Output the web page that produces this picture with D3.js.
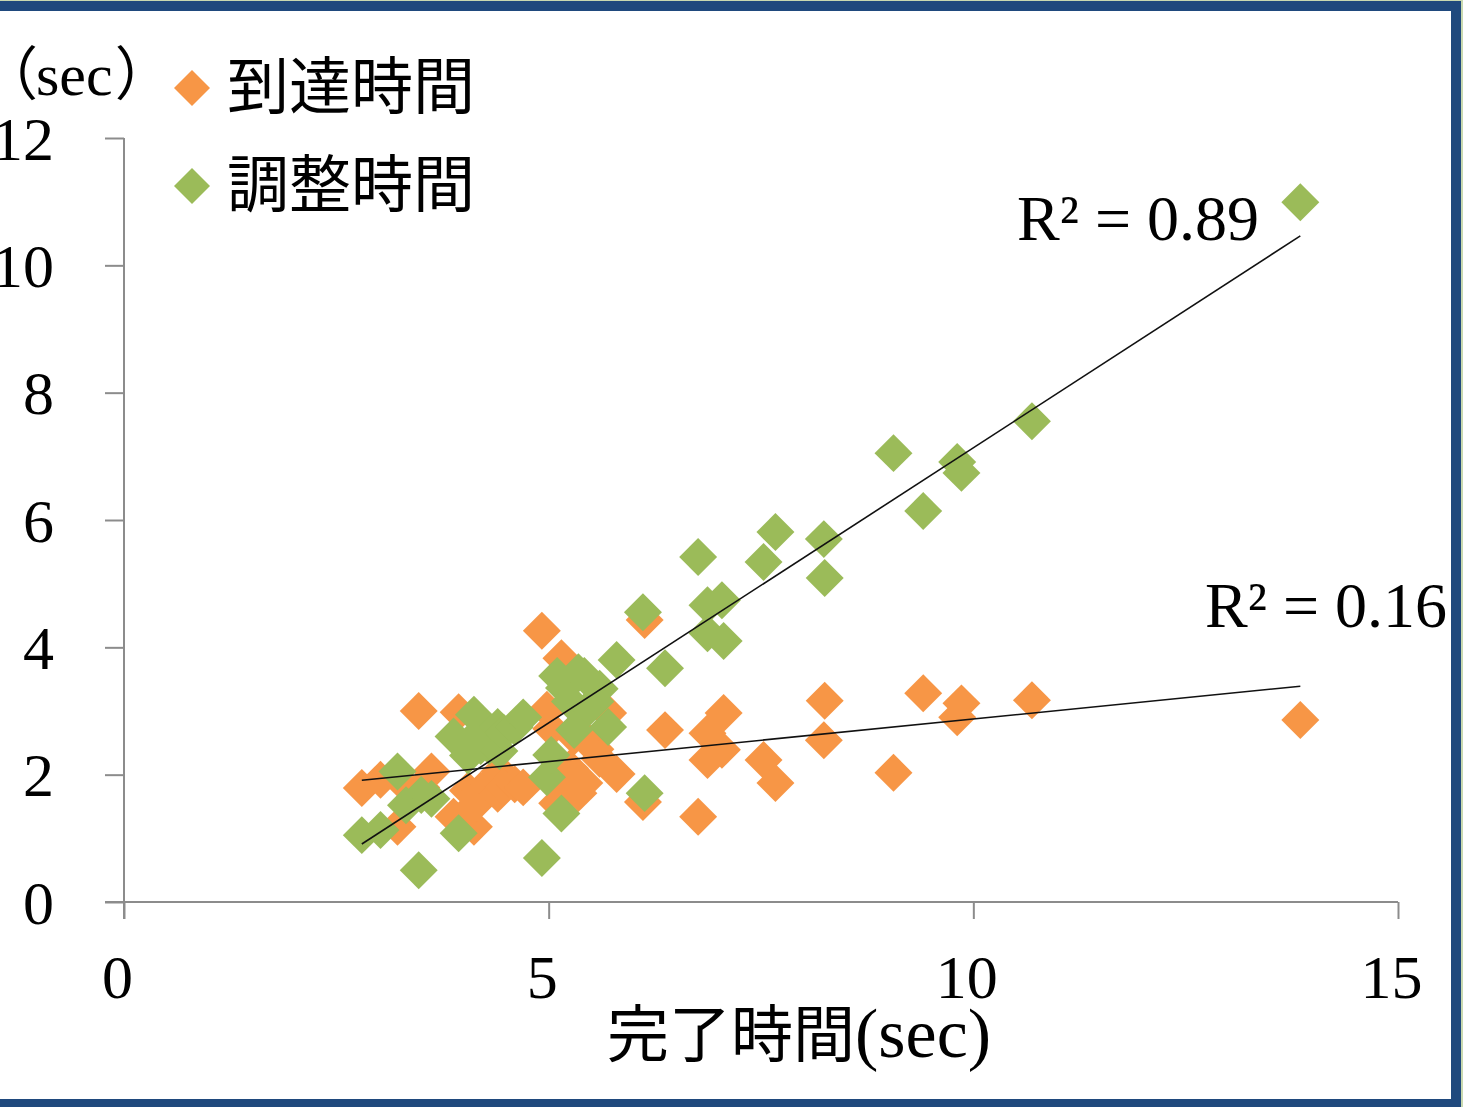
<!DOCTYPE html>
<html><head><meta charset="utf-8">
<script src="https://cdn.jsdelivr.net/npm/d3@7"></script>
<style>html,body{margin:0;padding:0;background:#fff;overflow:hidden}</style>
</head><body>
<svg id="chart" width="1463" height="1107"></svg>
<script>
// completion time (x), arrival time (orange), adjustment time (green)
const completion = [2.80,3.02,3.22,3.32,3.47,3.50,3.62,3.88,3.94,4.05,4.12,4.15,4.20,4.30,4.40,4.42,4.47,4.60,4.70,4.92,4.98,5.03,5.15,5.18,5.25,5.35,5.45,5.42,5.55,5.70,5.80,5.60,5.10,5.30,6.11,6.13,6.37,6.76,6.87,6.87,7.04,7.06,7.53,7.67,8.24,8.25,9.06,9.41,9.81,9.86,10.69,13.85];
const arrival    = [1.79,1.92,1.18,1.82,3.00,1.80,2.05,1.34,2.98,1.75,1.18,1.55,1.75,1.85,1.70,2.05,1.81,1.85,1.80,4.26,3.02,2.72,3.83,1.82,2.10,1.71,2.54,1.87,2.40,2.97,2.01,2.25,1.55,2.60,1.57,4.43,2.70,1.34,2.23,2.65,2.39,2.97,2.23,1.87,2.54,3.16,2.03,3.28,2.90,3.12,3.17,2.86];
const adjustment = [1.05,1.13,2.05,1.52,0.50,1.68,1.62,2.60,1.08,2.30,2.94,2.62,2.45,2.45,2.75,2.37,2.66,2.75,2.90,0.69,1.96,2.31,1.39,3.36,3.15,3.61,3.02,3.55,3.15,2.75,3.80,3.35,3.55,2.70,4.55,1.71,3.67,5.42,4.66,4.22,4.74,4.10,5.34,5.81,5.70,5.09,7.05,6.14,6.91,6.74,7.55,10.99];
const xTicks = [0,5,10,15];
const yTicks = [0,2,4,6,8,10,12];
const seriesNames = ["到達時間","調整時間"];
const r2Labels = ["R² = 0.89","R² = 0.16"];

const ORANGE = "#F79646", GREEN = "#9BBB59", AXIS = "#8c8c8c", FRAME = "#1F497D";
const svg = d3.select("#chart");

// frame
svg.append("rect").attr("x",0).attr("y",0).attr("width",1463).attr("height",1107).attr("fill","#fff");
svg.append("rect").attr("x",0).attr("y",0).attr("width",1463).attr("height",1).attr("fill","#c9d9b0");
svg.append("rect").attr("x",1461).attr("y",0).attr("width",2).attr("height",1107).attr("fill","#c9d9b0");
svg.append("rect").attr("x",0).attr("y",1).attr("width",1461).attr("height",10).attr("fill",FRAME);
svg.append("rect").attr("x",1451).attr("y",1).attr("width",10).attr("height",1106).attr("fill",FRAME);
svg.append("rect").attr("x",0).attr("y",1099).attr("width",1461).attr("height",8).attr("fill",FRAME);

const x = d3.scaleLinear().domain([0,15]).range([124,1398]);
const y = d3.scaleLinear().domain([0,12]).range([902,138]);

// axes
const gx = svg.append("g").attr("transform","translate(0,902)")
  .call(d3.axisBottom(x).tickValues(xTicks).tickSize(17).tickFormat(d3.format("d")));
gx.select(".domain").attr("d","M105,0H1398");
const gy = svg.append("g").attr("transform","translate(124,0)")
  .call(d3.axisLeft(y).tickValues(yTicks).tickSize(19).tickFormat(d3.format("d")));
gy.select(".domain").attr("d","M0,138V919");
[gx,gy].forEach(g=>{
  g.selectAll(".domain").attr("stroke",AXIS).attr("stroke-width",2);
  g.selectAll(".tick line").attr("stroke",AXIS).attr("stroke-width",2);
  g.selectAll(".tick text").attr("fill","#000").attr("font-family","'Liberation Serif',serif").attr("font-size",62);
});
gx.selectAll(".tick text").attr("dy",null).attr("y",96).attr("dx",-7);
gy.selectAll(".tick text").attr("x",-70).attr("dy","0.34em");

// points
const diamond = d3.symbol(d3.symbolSquare, 720);
const pts = svg.append("g");
pts.selectAll(".o").data(completion.map((c,i)=>[c,arrival[i]])).join("path")
  .attr("d",diamond).attr("fill",ORANGE)
  .attr("transform",d=>`translate(${x(d[0])},${y(d[1])}) rotate(45)`);
pts.selectAll(".g").data(completion.map((c,i)=>[c,adjustment[i]])).join("path")
  .attr("d",diamond).attr("fill",GREEN)
  .attr("transform",d=>`translate(${x(d[0])},${y(d[1])}) rotate(45)`);

// linear trendlines (least squares)
function fit(xs, ys){
  const mx=d3.mean(xs), my=d3.mean(ys);
  let sxy=0,sxx=0; xs.forEach((v,i)=>{sxy+=(v-mx)*(ys[i]-my); sxx+=(v-mx)*(v-mx);});
  const b=sxy/sxx; return [b, my-b*mx];
}
const [xmin,xmax] = d3.extent(completion);
[arrival, adjustment].forEach(ys=>{
  const [b,a] = fit(completion, ys);
  svg.append("line").attr("x1",x(xmin)).attr("y1",y(a+b*xmin))
    .attr("x2",x(xmax)).attr("y2",y(a+b*xmax))
    .attr("stroke","#111").attr("stroke-width",1.6);
});

// R² labels
svg.append("text").attr("x",1017).attr("y",240).attr("font-family","'Liberation Serif',serif")
  .attr("font-size",64).text(r2Labels[0]);
svg.append("text").attr("x",1205).attr("y",627).attr("font-family","'Liberation Serif',serif")
  .attr("font-size",64).text(r2Labels[1]);

// legend
const legY = [88,186];
const legDiamond = d3.symbol(d3.symbolSquare, 648);
[ORANGE,GREEN].forEach((c,i)=>{
  svg.append("path").attr("d",legDiamond).attr("fill",c)
    .attr("transform",`translate(192,${legY[i]}) rotate(45)`);
  svg.append("text").attr("x",227).attr("y",legY[i]+21)
    .attr("font-family","'Noto Sans CJK JP',sans-serif").attr("font-size",62).text(seriesNames[i]);
});

// y unit label
const yl = svg.append("text").attr("x",-20).attr("y",95);
yl.append("tspan").attr("font-family","'Noto Sans CJK JP'").attr("font-size",58).text("（");
yl.append("tspan").attr("font-family","'Liberation Serif',serif").attr("font-size",60).attr("dx",-2).text("sec");
yl.append("tspan").attr("font-family","'Noto Sans CJK JP'").attr("font-size",58).attr("dx",2).text("）");

// x title
const xt = svg.append("text").attr("x",607).attr("y",1057);
xt.append("tspan").attr("font-family","'Noto Sans CJK JP'").attr("font-size",62).text("完了時間");
xt.append("tspan").attr("font-family","'Liberation Serif',serif").attr("font-size",70).text("(sec)");
</script>
</body></html>
